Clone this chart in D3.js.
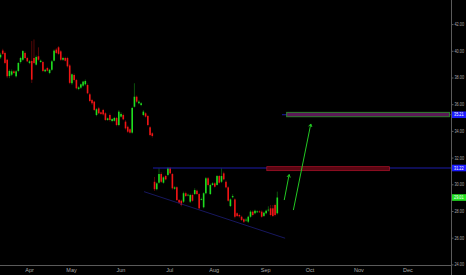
<!DOCTYPE html>
<html>
<head>
<meta charset="utf-8">
<script src="https://cdn.jsdelivr.net/npm/d3@7"></script>
<style>
html,body{margin:0;padding:0;background:#000;}
svg{display:block;}
text{font-family:"Liberation Sans","DejaVu Sans",Arial,sans-serif;}
</style>
</head>
<body>
<svg id="chart" width="466" height="275"></svg>
<script>
// ---- data: daily bars [open, high, low, close] ----
const barsBeforeGap = [
[39.51,39.85,39.40,39.71],[40.02,40.15,39.70,39.77],[39.84,39.95,39.00,39.09],[39.33,39.40,37.95,38.09],
[38.11,38.60,37.95,38.49],[38.21,38.60,38.10,38.46],[38.46,38.55,38.25,38.34],[38.09,38.55,38.00,38.46],
[38.49,39.15,38.40,39.09],[39.16,39.55,39.05,39.46],[39.33,40.05,39.25,39.98],[39.84,39.95,39.40,39.46],
[39.46,39.55,39.15,39.21],[39.09,39.30,39.00,39.21],[39.24,40.73,37.59,37.84],[39.46,40.85,39.00,39.09],
[38.96,39.65,38.90,39.54],[39.59,40.26,39.25,39.33],[39.16,39.35,39.10,39.26],[39.16,39.25,38.40,38.49],
[38.46,38.65,38.40,38.58],[38.71,38.80,38.45,38.51],[38.34,38.65,38.25,38.58],[38.58,39.30,38.50,39.21],
[39.26,40.10,39.20,40.01],[40.09,40.20,39.75,39.84],[40.26,40.35,39.70,39.77],[39.96,40.05,39.25,39.33],
[39.33,39.55,39.25,39.46],[39.46,39.55,39.20,39.26],[39.46,39.55,38.75,38.84],[38.90,39.00,37.50,37.60],
[37.57,38.30,37.45,38.24],[38.19,38.30,37.70,37.81],[37.81,37.90,37.10,37.19],[37.14,37.35,37.05,37.26],
[37.24,37.55,37.15,37.49],[37.39,37.75,37.30,37.69],[37.49,37.85,37.40,37.74],[37.44,37.55,36.75,36.82],
[36.74,36.85,36.15,36.24],[36.31,36.40,35.95,36.07],[36.19,36.25,35.50,35.57],[35.19,35.70,35.10,35.62],
[35.69,35.80,35.25,35.32],[35.39,35.45,35.20,35.27],[35.57,35.65,35.15,35.24],[35.32,35.40,34.75,34.82],
[34.82,35.00,34.75,34.94],[35.19,35.30,34.70,34.82],[34.74,34.95,34.65,34.89],[34.76,35.05,34.70,34.97],
[34.97,35.05,34.35,34.44],[34.44,35.55,34.35,35.44],[35.07,35.40,35.00,35.27],[35.19,35.30,34.80,34.87],
[34.69,34.80,34.10,34.19],[34.31,34.40,33.85,33.94],[34.12,34.20,33.80,33.87],[33.87,35.80,33.80,35.72],
[35.81,37.57,35.75,36.56],[36.56,36.65,36.10,36.19],[36.07,36.30,36.00,36.19],[35.94,36.15,35.85,36.07],
[35.19,35.55,35.10,35.44],[35.32,35.40,35.00,35.07],[35.12,35.20,34.35,34.44],[34.27,34.35,33.60,33.69],
[33.82,33.90,33.50,33.62]
];
const barsAfterGap = [
[30.19,30.55,29.50,29.63],[29.63,30.15,29.55,30.07],[30.12,31.20,30.05,30.77],[30.77,30.90,30.10,30.19],
[30.12,30.60,30.05,30.52],[30.62,30.70,30.30,30.37],[30.70,31.30,30.60,31.20],[31.20,31.30,30.75,30.82],
[30.77,30.85,29.60,29.70],[29.67,29.85,29.60,29.77],[29.78,29.85,28.75,28.82],[28.82,28.90,28.55,28.62],
[28.77,28.85,28.35,28.45],[28.70,29.45,28.60,29.33],[29.33,29.45,29.05,29.12],[29.18,29.30,29.10,29.22],
[28.70,29.30,28.60,29.20],[29.20,29.30,28.70,28.77],[29.27,29.70,29.20,29.57],[29.52,29.60,29.20,29.27],
[29.27,29.35,28.10,28.20],[28.85,29.00,28.80,28.90],[28.28,29.40,28.20,29.33],[29.33,30.55,29.25,30.45],
[30.45,30.55,29.85,29.95],[29.27,30.05,29.20,29.95],[29.95,30.15,29.90,30.07],[30.07,30.15,29.75,29.82],
[29.95,30.70,29.90,30.62],[30.62,30.70,30.05,30.12],[30.19,31.20,30.10,30.62],[30.82,30.95,30.30,30.37],
[30.19,30.30,29.70,29.77],[29.77,29.85,28.70,28.77],[28.37,28.95,28.30,28.87],[29.03,29.25,28.95,29.12],
[28.87,28.95,27.45,27.57],[27.83,27.90,27.55,27.63],[27.70,27.80,27.50,27.60],[27.57,27.65,27.25,27.33],
[27.38,27.45,27.10,27.20],[27.30,27.45,27.20,27.35],[27.20,27.65,27.10,27.57],[27.57,28.05,27.50,27.95],
[27.95,28.05,27.60,27.70],[27.83,28.10,27.75,28.02],[27.93,28.05,27.85,27.97],[27.97,28.05,27.85,27.93],
[27.95,28.05,27.50,27.57],[27.63,27.95,27.55,27.87],[27.83,28.10,27.75,28.02],[28.05,28.35,27.95,28.10],
[28.20,28.45,27.60,27.70],[28.20,28.45,27.55,27.63],[28.45,28.55,27.60,27.70],[27.83,29.45,27.75,29.01]
];
const priceTicks = [24, 26, 28, 30, 32, 34, 36, 38, 40, 42];
const monthLabels = ["Apr","May","Jun","Jul","Aug","Sep","Oct","Nov","Dec"];
const monthBars = [12.8, 31.6, 53.7, 75.6, 95.5, 118.6, 138.4, 160.3, 182.3];
// drawings (bar index, price)
const resistance = {fromBar: 68.3, price: 31.22};
const targetLine = {fromBar: 126.1, price: 35.21};
const supportTrend = [[64.3, 29.45], [127.5, 25.96]];
const redZone = {bar0: 119.3, bar1: 174.2, p0: 31.02, p1: 31.32};
const greenZone = {bar0: 128.2, bar1: 201.1, p0: 35.06, p1: 35.39};
const arrows = [[[127.1, 28.82], [129.3, 30.73]], [[131.2, 28.07], [139.0, 34.52]]];
const lastPrice = 29.01;

const bars = barsBeforeGap.concat(barsAfterGap);
const W = 466, H = 275, plotR = 451.5, plotB = 265.5;
const svg = d3.select("#chart");
svg.append("rect").attr("width", W).attr("height", H).attr("fill", "#000");

const x = d3.scaleLinear().domain([0, bars.length - 1]).range([0.5, 277.3]);
const y = d3.scaleLinear().domain([24, 42]).range([264.4, 24.1]);

const defs = svg.append("defs");
defs.append("clipPath").attr("id", "plot")
  .append("rect").attr("x", 0).attr("y", 0).attr("width", plotR).attr("height", plotB);
const g = svg.append("g").attr("clip-path", "url(#plot)");

const GREEN = "#1fdc1f", RED = "#f01515";
const col = d => d[3] >= d[0] ? GREEN : RED;

// wicks
g.selectAll("line.wick").data(bars).join("line").attr("class", "wick")
  .attr("x1", (d, i) => x(i)).attr("x2", (d, i) => x(i))
  .attr("y1", d => y(d[1])).attr("y2", d => y(d[2]))
  .attr("stroke", col).attr("stroke-opacity", 0.45).attr("stroke-width", 0.8);
// bodies
g.selectAll("rect.body").data(bars).join("rect").attr("class", "body")
  .attr("x", (d, i) => x(i) - 0.8).attr("width", 1.6)
  .attr("y", d => y(Math.max(d[0], d[3])))
  .attr("height", d => Math.max(0.8, Math.abs(y(d[0]) - y(d[3]))))
  .attr("fill", col);

// horizontal lines
g.append("line").attr("x1", x(resistance.fromBar)).attr("x2", plotR)
  .attr("y1", y(resistance.price)).attr("y2", y(resistance.price))
  .attr("stroke", "#1c1caa").attr("stroke-width", 1);
g.append("line").attr("x1", x(targetLine.fromBar)).attr("x2", plotR)
  .attr("y1", y(targetLine.price)).attr("y2", y(targetLine.price))
  .attr("stroke", "#1c1caa").attr("stroke-width", 1);
// trendline
g.append("line").attr("x1", x(supportTrend[0][0])).attr("y1", y(supportTrend[0][1]))
  .attr("x2", x(supportTrend[1][0])).attr("y2", y(supportTrend[1][1]))
  .attr("stroke", "#17175e").attr("stroke-width", 1);

// zones
g.append("rect").attr("x", x(redZone.bar0)).attr("width", x(redZone.bar1) - x(redZone.bar0))
  .attr("y", y(redZone.p1)).attr("height", y(redZone.p0) - y(redZone.p1))
  .attr("fill", "#5a0612").attr("stroke", "#b0122a").attr("stroke-width", 0.7);
g.append("rect").attr("x", x(greenZone.bar0)).attr("width", x(greenZone.bar1) - x(greenZone.bar0))
  .attr("y", y(greenZone.p1)).attr("height", y(greenZone.p0) - y(greenZone.p1))
  .attr("fill", "#5a1a55").attr("stroke", "#2e8c2e").attr("stroke-width", 0.9);

// arrows
arrows.forEach(a => {
  const x1 = x(a[0][0]), y1 = y(a[0][1]), x2 = x(a[1][0]), y2 = y(a[1][1]);
  g.append("line").attr("x1", x1).attr("y1", y1).attr("x2", x2).attr("y2", y2)
    .attr("stroke", "#22c922").attr("stroke-width", 1);
  const ang = Math.atan2(y2 - y1, x2 - x1), L = 3.2;
  [ang + Math.PI - 0.55, ang + Math.PI + 0.55].forEach(t => {
    g.append("line").attr("x1", x2).attr("y1", y2)
      .attr("x2", x2 + L * Math.cos(t)).attr("y2", y2 + L * Math.sin(t))
      .attr("stroke", "#22c922").attr("stroke-width", 1);
  });
});

// axes
const axisCol = "#5a5a5a", textCol = "#a9a9a9";
svg.append("line").attr("x1", plotR).attr("x2", plotR).attr("y1", 0).attr("y2", H)
  .attr("stroke", axisCol).attr("stroke-width", 1);

const yAxis = d3.axisRight(y).tickValues(priceTicks)
  .tickFormat(d3.format(".2f")).tickSize(2).tickPadding(1);
const ya = svg.append("g").attr("transform", `translate(${plotR},0)`).call(yAxis);
ya.select(".domain").remove();
ya.selectAll("line").attr("stroke", axisCol);
ya.selectAll("text").attr("fill", textCol).style("font-size", "4.5px")
  .attr("textLength", 9.5).attr("lengthAdjust", "spacingAndGlyphs");

svg.append("line").attr("x1", 0).attr("x2", plotR).attr("y1", plotB).attr("y2", plotB)
  .attr("stroke", axisCol).attr("stroke-width", 1);

const xAxis = d3.axisBottom(x).tickValues(monthBars).tickFormat((d, i) => monthLabels[i]).tickSize(0).tickPadding(3);
const xa = svg.append("g").attr("transform", `translate(0,${plotB})`).call(xAxis);
xa.select(".domain").remove();
xa.selectAll("text").attr("fill", textCol).style("font-size", "5.5px");

// price labels
function priceLabel(v, fill, txt) {
  const cy = y(v);
  svg.append("rect").attr("x", plotR + 0.5).attr("y", cy - 3.3).attr("width", 14).attr("height", 6.6).attr("fill", fill);
  svg.append("text").attr("x", plotR + 7.3).attr("y", cy).attr("text-anchor", "middle")
    .attr("dominant-baseline", "central").attr("fill", txt).style("font-size", "4.5px")
    .attr("textLength", 9.5).attr("lengthAdjust", "spacingAndGlyphs")
    .text(d3.format(".2f")(v));
}
priceLabel(targetLine.price, "#1c1cff", "#ffffff");
priceLabel(resistance.price, "#1c1cff", "#ffffff");
priceLabel(lastPrice, "#22e022", "#ffffff");
</script>
</body>
</html>
